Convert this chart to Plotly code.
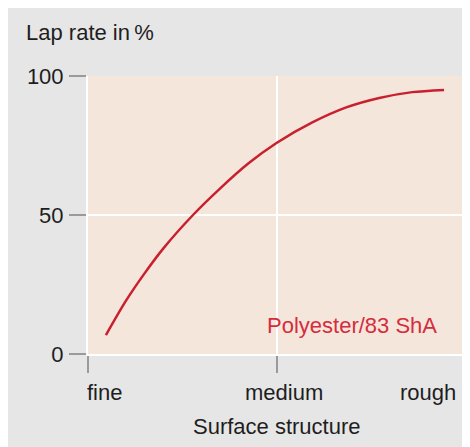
import plotly.graph_objects as go

# ── Farben ──
COLORS = {
    "panel": "#e6e6e6",
    "plot":  "#f5e6dc",
    "grid":  "#ffffff",
    "tick":  "#9a9a9a",
    "text":  "#1e1e1e",
    "red":   "#c8202f",
    "label": "#d42d3c",
}
FONT = "Liberation Sans, Arial, sans-serif"
FS = 22

# ── Daten ──
structure_pos = [0.095, 0.2, 0.3, 0.4, 0.557, 0.7, 0.85,
                 1.0, 1.19, 1.37, 1.545, 1.72, 1.889]
lap_rate = [6.8, 19.0, 29.0, 38.0, 50.0, 59.5, 68.5,
            75.9, 83.3, 88.7, 92.1, 94.2, 95.0]

x_tick_vals = [0, 1]
x_label_text = ["fine", "medium", "rough"]
x_label_pos = [0.09, 1.042, 1.804]
y_tick_vals = [0, 50, 100]

series_name = "Polyester/83 ShA"

fig = go.Figure()
fig.add_trace(go.Scatter(
    x=structure_pos, y=lap_rate, mode="lines",
    line=dict(color=COLORS["red"], width=2.5, shape="spline", smoothing=0.8),
    name=series_name, showlegend=False, hoverinfo="skip",
))

# x-Beschriftungen (ohne Tick bei "rough")
for txt, pos in zip(x_label_text, x_label_pos):
    fig.add_annotation(x=pos, xref="x", y=-0.137, yref="paper", text=txt,
                       showarrow=False, xanchor="center", yanchor="middle",
                       font=dict(size=FS, color=COLORS["text"], family=FONT))

fig.add_annotation(x=0.5, xref="paper", y=-0.259, yref="paper",
                   text="Surface structure", showarrow=False,
                   xanchor="center", yanchor="middle",
                   font=dict(size=FS, color=COLORS["text"], family=FONT))
fig.add_annotation(x=-0.170, xref="paper", y=1.158, yref="paper",
                   text="Lap rate in\u2009%", showarrow=False,
                   xanchor="left", yanchor="middle",
                   font=dict(size=FS, color=COLORS["text"], family=FONT))
fig.add_annotation(x=1.862, xref="x", y=10.1, yref="y", text=series_name,
                   showarrow=False, xanchor="right", yanchor="middle",
                   font=dict(size=FS, color=COLORS["label"], family=FONT))

fig.update_layout(
    width=470, height=447,
    paper_bgcolor=COLORS["panel"], plot_bgcolor=COLORS["plot"],
    margin=dict(l=80, r=13, t=68, b=101),
    font=dict(family=FONT, size=FS, color=COLORS["text"]),
    showlegend=False,
    xaxis=dict(range=[0, 2], tickvals=x_tick_vals, showticklabels=False,
               ticks="outside", ticklen=17, tickwidth=1.5, tickcolor=COLORS["tick"],
               showgrid=True, gridcolor=COLORS["grid"], gridwidth=2,
               showline=True, linecolor=COLORS["grid"], linewidth=2,
               zeroline=False, fixedrange=True),
    yaxis=dict(range=[0, 100], tickvals=y_tick_vals,
               ticks="outside", ticklen=17, tickwidth=1.5, tickcolor=COLORS["tick"],
               ticklabelstandoff=1,
               tickfont=dict(size=FS, color=COLORS["text"]),
               showgrid=True, gridcolor=COLORS["grid"], gridwidth=2,
               showline=True, linecolor=COLORS["grid"], linewidth=2,
               zeroline=False, fixedrange=True),
)

fig.write_html("out.html")
